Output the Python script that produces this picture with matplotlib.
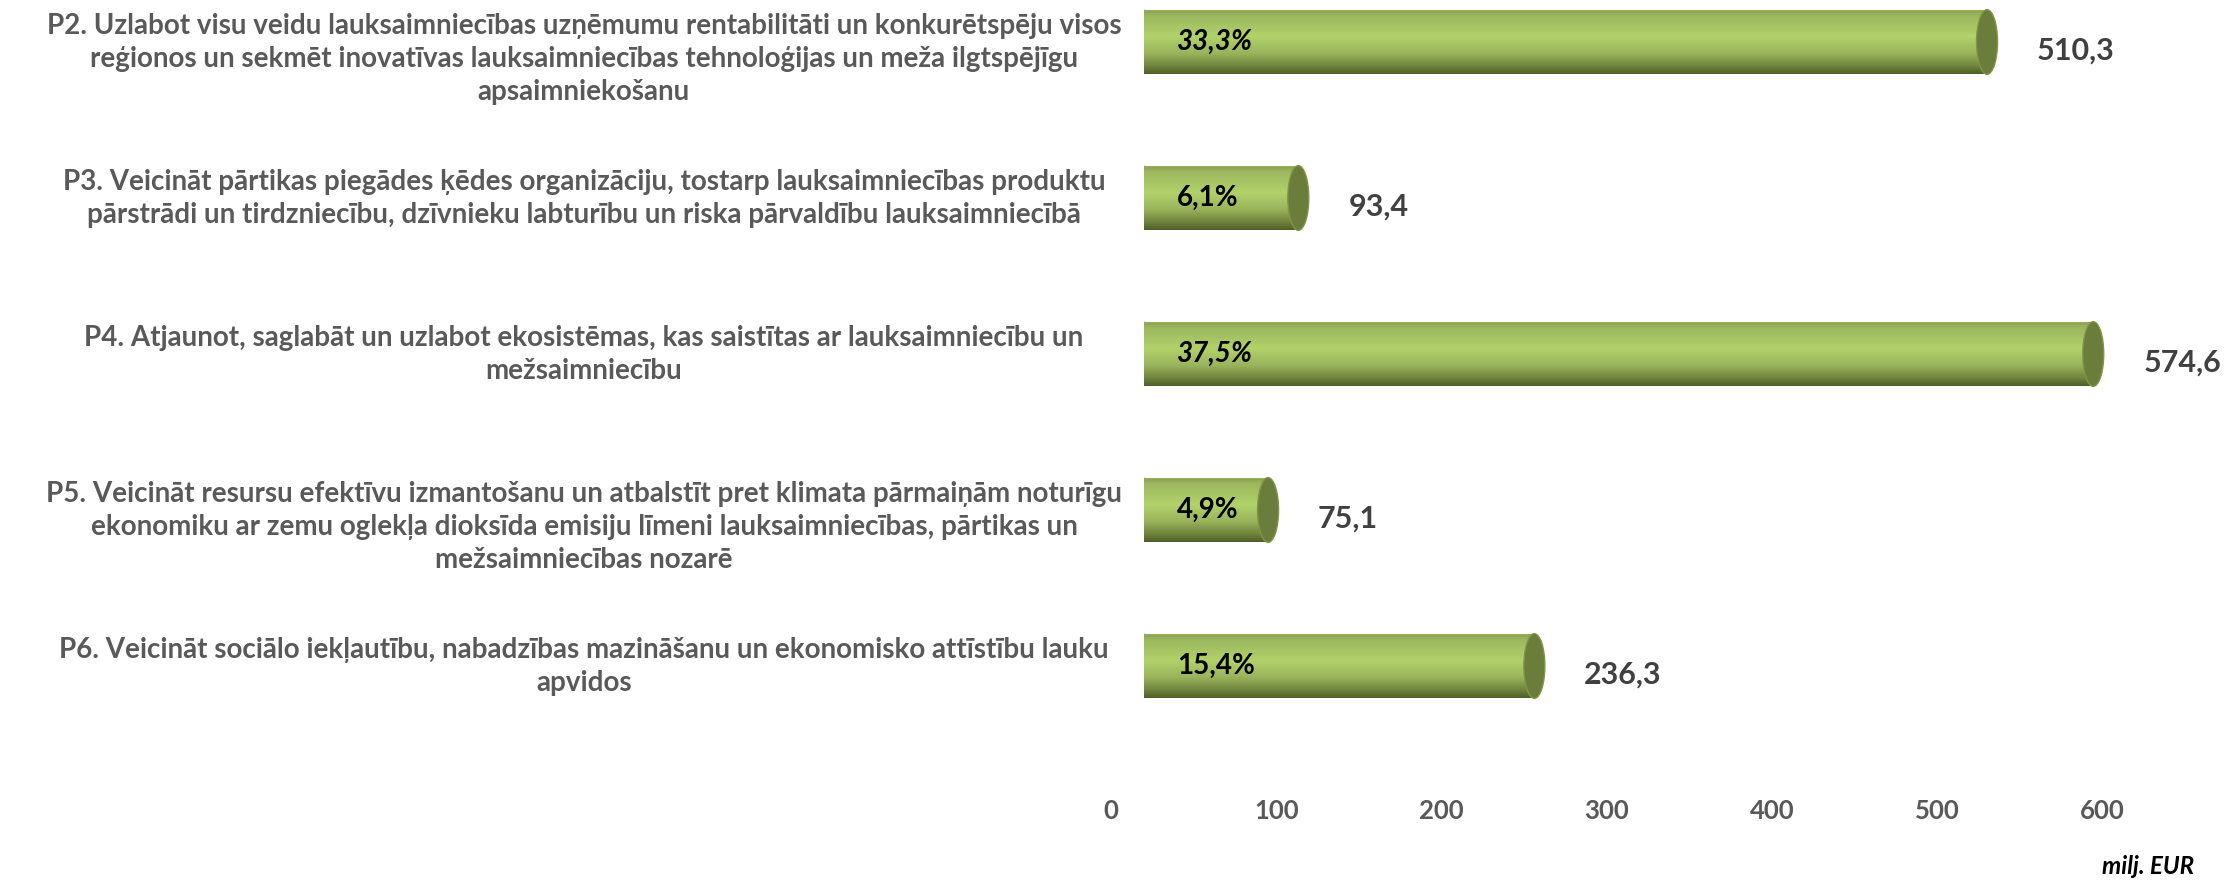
import matplotlib
matplotlib.use("Agg")
import matplotlib.pyplot as plt
import numpy as np
from matplotlib.patches import Ellipse, Rectangle
from matplotlib.colors import LinearSegmentedColormap
from matplotlib.transforms import ScaledTranslation

categories = [
    "P2. Uzlabot visu veidu lauksaimniecības uzņēmumu rentabilitāti un konkurētspēju visos\nreģionos un sekmēt inovatīvas lauksaimniecības tehnoloģijas un meža ilgtspējīgu\napsaimniekošanu",
    "P3. Veicināt pārtikas piegādes ķēdes organizāciju, tostarp lauksaimniecības produktu\npārstrādi un tirdzniecību, dzīvnieku labturību un riska pārvaldību lauksaimniecībā",
    "P4. Atjaunot, saglabāt un uzlabot ekosistēmas, kas saistītas ar lauksaimniecību un\nmežsaimniecību",
    "P5. Veicināt resursu efektīvu izmantošanu un atbalstīt pret klimata pārmaiņām noturīgu\nekonomiku ar zemu oglekļa dioksīda emisiju līmeni lauksaimniecības, pārtikas un\nmežsaimniecības nozarē",
    "P6. Veicināt sociālo iekļautību, nabadzības mazināšanu un ekonomisko attīstību lauku\napvidos",
]
values = [510.3, 93.4, 574.6, 75.1, 236.3]
percent_labels = ["33,3%", "6,1%", "37,5%", "4,9%", "15,4%"]
value_labels = ["510,3", "93,4", "574,6", "75,1", "236,3"]
xticks = [0, 100, 200, 300, 400, 500, 600]
unit_label = "milj. EUR"

italic_flags = [True, False, True, False, False]

plt.rcParams['font.family'] = ['Lato', 'DejaVu Sans']

W, H = 2234, 880
fig = plt.figure(figsize=(W / 100, H / 100), dpi=100)
ax_left_px = 1144
ax_bottom_px = 795
px_per_unit = 1.652
xmax = 660
ax_w_px = xmax * px_per_unit
ax = fig.add_axes([ax_left_px / W, (H - ax_bottom_px) / H, ax_w_px / W, ax_bottom_px / H])

spacing = 156.0
top_idx = -42 / spacing
bot_idx = top_idx + ax_bottom_px / spacing
ax.set_xlim(0, xmax)
ax.set_ylim(bot_idx, top_idx)

ypos = np.arange(len(values))
bar_h = 0.415
bars = ax.barh(ypos, values, height=bar_h, color="none", edgecolor="none")

cmap = LinearSegmentedColormap.from_list(
    "cyl",
    [(0.0, "#A4BB6A"), (0.03, "#8EA556"), (0.1, "#9CB75F"), (0.42, "#B2D26A"),
     (0.68, "#9AB45C"), (0.88, "#6E833C"), (1.0, "#4E5E27")])
grad = np.linspace(0, 1, 256).reshape(-1, 1)
ew = 21 / px_per_unit  # ellipse width in data units

for b in bars:
    x0 = b.get_x()
    y0 = b.get_y()
    w = b.get_width()
    h = b.get_height()
    yc = y0 + h / 2
    for clip_patch in (Ellipse((x0, yc), ew, h), Rectangle((x0, y0), w, h)):
        clip_patch.set_facecolor("none")
        clip_patch.set_edgecolor("none")
        ax.add_patch(clip_patch)
        im = ax.imshow(grad, cmap=cmap, aspect="auto",
                       extent=(x0 - ew, x0 + w, y0 + h, y0),
                       origin="upper", zorder=2, interpolation="bilinear")
        im.set_clip_path(clip_patch)
    cap = Ellipse((x0 + w, yc), ew, h, facecolor="#6A7D3A", edgecolor="#809646",
                  linewidth=1.0, zorder=3)
    ax.add_patch(cap)

for i, b in enumerate(bars):
    yc = b.get_y() + b.get_height() / 2
    ax.text(20, yc, percent_labels[i], ha="left", va="center", fontsize=20,
            fontweight="bold", fontstyle="italic" if italic_flags[i] else "normal",
            color="black", zorder=5)
    ax.annotate(value_labels[i], xy=(b.get_width(), yc), xytext=(36, -6),
                textcoords="offset points", ha="left", va="center", fontsize=22,
                fontweight="bold", color="#404040", zorder=5)

ax.set_xticks(xticks)
ax.set_xticklabels([str(t) for t in xticks], fontweight="bold")
ax.tick_params(axis="x", length=0, pad=3, labelsize=18.5, labelcolor="#595959")
for lab in ax.get_xticklabels():
    lab.set_transform(lab.get_transform() + ScaledTranslation(-33 / 100, 0, fig.dpi_scale_trans))

ax.set_yticks(ypos)
ax.set_yticklabels(categories, fontweight="bold")
pad_pt = (ax_left_px - 584) * 72 / 100
ax.tick_params(axis="y", length=0, pad=pad_pt, labelsize=20, labelcolor="#595959")
for lab in ax.get_yticklabels():
    lab.set_horizontalalignment("center")
    lab.set_verticalalignment("top")
    lab.set_multialignment("center")
    lab.set_linespacing(1.33)
    lab.set_transform(lab.get_transform() + ScaledTranslation(0, 0.29, fig.dpi_scale_trans))

for s in ax.spines.values():
    s.set_visible(False)
ax.set_facecolor("none")

fig.text(2194 / W, 1 - 866 / H, unit_label, ha="right", va="center", fontsize=17.5,
         fontweight="bold", fontstyle="italic", color="black")

fig.savefig("out.png", dpi=100)
